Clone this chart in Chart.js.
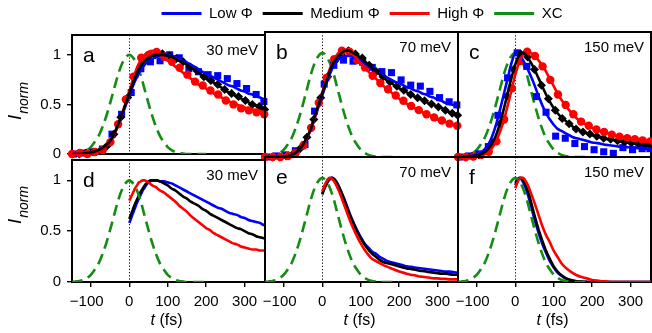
<!DOCTYPE html>
<html><head><meta charset="utf-8">
<script src="https://cdn.jsdelivr.net/npm/chart.js@4.4.1/dist/chart.umd.min.js"></script>
<style>
html,body{margin:0;padding:0;background:#fff;}
#wrap{position:relative;width:652px;height:333px;overflow:hidden;background:#fff;}
#wrap canvas{position:absolute;}
</style></head><body><div id="wrap"></div>
<script>
// ---------- tick labels / categories ----------
const xTickValues = [-100, 0, 100, 200, 300];
const xTickLabels = ['\u2212100', '0', '100', '200', '300'];
const yTickValues = [0, 0.5, 1];
const yTickLabels = ['0', '0.5', '1'];
const panelLetters = ['a', 'b', 'c', 'd', 'e', 'f'];
const energyLabels = ['30 meV', '70 meV', '150 meV'];
const seriesNames = ['Low \u03A6', 'Medium \u03A6', 'High \u03A6', 'XC'];

// ---------- time axes (fs) ----------
const tFit = [-150,-140,-130,-120,-110,-100,-90,-80,-70,-60,-50,-40,-30,-20,-10,0,10,20,30,40,50,60,70,80,90,100,110,120,130,140,150,160,170,180,190,200,210,220,230,240,250,260,270,280,290,300,310,320,330,340,350,360];
const tB = [0,5,10,15,20,25,30,35,40,45,50,60,70,80,90,100,110,120,130,140,150,160,170,180,190,200,210,220,230,240,250,260,270,280,290,300,310,320,330,340,350,360];
const tXC = [-150,-140,-130,-120,-110,-100,-90,-80,-70,-60,-50,-40,-30,-20,-10,0,10,20,30,40,50,60,70,80,90,100,110,120,130,140,150,160,170,180,190,200];
const tSq = [-145,-120,-95,-70,-45,-20,5,30,55,80,105,130,155,180,205,230,255,280,305,330,350];
const tDia = [-148,-130,-112,-94,-76,-58,-40,-22,-4,14,32,50,68,86,104,122,140,158,176,194,212,230,248,266,284,302,320,338,352];
const tCir = [-149,-129,-109,-89,-69,-49,-29,-9,11,31,51,71,91,111,131,151,171,191,211,231,251,271,291,311,331,351];

// ---------- cross-correlation ----------
const xcVals = [0,0.005,0.01,0.02,0.04,0.07,0.12,0.18,0.27,0.38,0.51,0.65,0.79,0.9,0.97,1.0,0.97,0.9,0.79,0.65,0.51,0.38,0.27,0.18,0.12,0.07,0.04,0.02,0.01,0.005,0,0,0,0,0,0];

// ---------- panel a (30 meV, measured) ----------
const aBlueFit = [0,0,0,0,0.005,0.01,0.02,0.035,0.055,0.085,0.125,0.19,0.28,0.38,0.48,0.59,0.69,0.78,0.85,0.9,0.94,0.96,0.98,0.99,1.0,1.0,0.99,0.98,0.96,0.94,0.92,0.9,0.88,0.85,0.83,0.81,0.79,0.77,0.75,0.73,0.71,0.69,0.68,0.66,0.64,0.63,0.61,0.6,0.58,0.57,0.55,0.54];
const aBlackFit = [0,0,0,0.005,0.01,0.015,0.025,0.04,0.06,0.09,0.13,0.2,0.29,0.39,0.5,0.61,0.72,0.82,0.89,0.94,0.97,0.99,1.0,1.0,1.0,0.99,0.98,0.96,0.94,0.92,0.9,0.87,0.85,0.82,0.79,0.76,0.74,0.72,0.69,0.67,0.64,0.62,0.6,0.58,0.56,0.54,0.52,0.5,0.49,0.47,0.46,0.44];
const aRedFit = [0,0,0,0,0.005,0.01,0.02,0.03,0.05,0.08,0.12,0.19,0.28,0.39,0.51,0.63,0.76,0.87,0.95,1.0,1.03,1.04,1.03,1.0,0.97,0.94,0.91,0.88,0.85,0.82,0.79,0.76,0.73,0.7,0.68,0.66,0.63,0.61,0.59,0.57,0.55,0.53,0.51,0.5,0.48,0.47,0.46,0.45,0.44,0.43,0.42,0.41];
const aBlueSq = [0,0.01,0.02,0.05,0.2,0.4,0.62,0.86,0.93,0.94,1.0,0.97,0.86,0.83,0.8,0.79,0.76,0.71,0.66,0.6,0.53];
const aBlackDia = [0,0,0.01,0.02,0.03,0.08,0.2,0.37,0.57,0.78,0.9,0.96,1.0,1.01,0.99,0.96,0.93,0.88,0.84,0.78,0.74,0.7,0.65,0.61,0.58,0.54,0.5,0.48,0.45];
const aRedCir = [0,0.01,0,0.02,0.04,0.12,0.3,0.55,0.78,0.97,1.0,1.03,0.98,0.93,0.87,0.8,0.73,0.69,0.64,0.6,0.54,0.5,0.46,0.44,0.42,0.4];

// ---------- panel b (70 meV, measured) ----------
const bBlueFit = [0,0,0,0,0,0.005,0.01,0.02,0.04,0.07,0.11,0.18,0.26,0.37,0.48,0.59,0.7,0.8,0.88,0.93,0.96,0.97,0.97,0.96,0.94,0.92,0.9,0.87,0.84,0.82,0.8,0.78,0.76,0.74,0.72,0.71,0.69,0.67,0.66,0.64,0.63,0.61,0.6,0.58,0.57,0.55,0.54,0.52,0.51,0.5,0.48,0.47];
const bBlackFit = [0,0,0,0,0,0.005,0.01,0.02,0.04,0.07,0.12,0.19,0.27,0.39,0.5,0.61,0.72,0.83,0.91,0.96,1.0,1.02,1.02,1.0,0.98,0.95,0.92,0.89,0.85,0.82,0.79,0.76,0.73,0.71,0.68,0.66,0.64,0.62,0.6,0.58,0.56,0.55,0.53,0.51,0.5,0.48,0.47,0.45,0.43,0.42,0.4,0.39];
const bRedFit = [0,0,0,0,0,0.005,0.01,0.02,0.04,0.07,0.11,0.18,0.27,0.38,0.5,0.62,0.74,0.85,0.93,0.99,1.02,1.03,1.01,0.98,0.94,0.9,0.86,0.82,0.78,0.75,0.71,0.68,0.65,0.62,0.59,0.56,0.54,0.51,0.49,0.47,0.45,0.43,0.41,0.4,0.38,0.36,0.35,0.34,0.32,0.31,0.3,0.29];
const bBlueSq = [0,0.01,0.02,0.06,0.12,0.44,0.7,0.88,0.93,0.92,0.91,0.86,0.82,0.81,0.74,0.69,0.68,0.63,0.57,0.53,0.5];
const bBlackDia = [0,0,0,0.01,0.03,0.08,0.19,0.36,0.57,0.77,0.92,0.99,1.02,0.99,0.95,0.88,0.82,0.77,0.72,0.68,0.64,0.6,0.57,0.54,0.51,0.48,0.45,0.42,0.4];
const bRedCir = [0,0,0,0.01,0.04,0.11,0.28,0.52,0.76,0.94,1.02,1.01,0.93,0.86,0.78,0.71,0.65,0.59,0.54,0.49,0.45,0.41,0.38,0.35,0.32,0.3];

// ---------- panel c (150 meV, measured) ----------
const cBlueFit = [0,0,0.005,0.01,0.015,0.025,0.04,0.07,0.12,0.2,0.31,0.45,0.6,0.75,0.9,0.99,0.98,0.93,0.86,0.78,0.69,0.59,0.5,0.42,0.36,0.31,0.27,0.25,0.23,0.21,0.19,0.18,0.17,0.16,0.15,0.14,0.135,0.13,0.12,0.115,0.11,0.105,0.1,0.1,0.095,0.09,0.09,0.085,0.085,0.08,0.08,0.08];
const cBlackFit = [0,0,0,0.005,0.01,0.015,0.025,0.045,0.08,0.13,0.21,0.32,0.46,0.61,0.76,0.89,0.98,1.0,0.97,0.91,0.84,0.76,0.68,0.6,0.53,0.47,0.42,0.38,0.35,0.32,0.29,0.27,0.25,0.24,0.22,0.21,0.2,0.19,0.18,0.17,0.165,0.16,0.15,0.145,0.14,0.135,0.13,0.125,0.12,0.12,0.115,0.11];
const cRedFit = [0,0,0,0,0.005,0.01,0.015,0.03,0.05,0.09,0.15,0.24,0.35,0.49,0.64,0.79,0.91,0.98,1.01,1.0,0.97,0.93,0.88,0.82,0.75,0.68,0.61,0.55,0.5,0.45,0.41,0.37,0.34,0.32,0.3,0.28,0.265,0.25,0.24,0.23,0.215,0.205,0.195,0.19,0.18,0.175,0.17,0.165,0.16,0.155,0.15,0.145];
const cBlueSq = [0,0.01,0.03,0.1,0.4,0.76,1.0,0.87,0.58,0.43,0.2,0.18,0.13,0.1,0.07,0.05,0.035,0.09,0.07,0.08,0.08];
const cBlackDia = [0,0,0.01,0.02,0.06,0.14,0.32,0.58,0.84,0.99,0.96,0.84,0.69,0.56,0.45,0.37,0.32,0.27,0.24,0.22,0.2,0.18,0.17,0.155,0.145,0.135,0.125,0.12,0.115];
const cRedCir = [0,0,0.005,0.02,0.05,0.15,0.36,0.66,0.92,1.01,0.97,0.87,0.74,0.6,0.5,0.41,0.34,0.3,0.265,0.24,0.215,0.195,0.18,0.17,0.16,0.15];

// ---------- panels d, e, f (simulated) ----------
const dBlue = [0.58,0.63,0.68,0.73,0.78,0.82,0.86,0.9,0.93,0.96,0.98,1.0,1.0,0.99,0.99,0.98,0.97,0.95,0.93,0.91,0.89,0.87,0.85,0.83,0.81,0.79,0.77,0.75,0.73,0.72,0.7,0.68,0.67,0.66,0.64,0.63,0.61,0.6,0.59,0.58,0.56,0.55];
const dBlack = [0.62,0.67,0.72,0.77,0.81,0.85,0.89,0.92,0.95,0.97,0.99,1.0,1.0,0.99,0.97,0.95,0.92,0.9,0.87,0.84,0.82,0.79,0.77,0.75,0.72,0.7,0.67,0.65,0.63,0.61,0.59,0.57,0.55,0.53,0.52,0.5,0.48,0.47,0.45,0.44,0.43,0.42];
const dRed = [0.8,0.84,0.88,0.92,0.95,0.98,0.99,1.0,1.0,0.99,0.98,0.95,0.93,0.9,0.88,0.85,0.82,0.79,0.75,0.72,0.69,0.65,0.62,0.59,0.56,0.53,0.51,0.48,0.46,0.44,0.42,0.4,0.38,0.37,0.35,0.34,0.33,0.32,0.32,0.31,0.31,0.3];
const eBlue = [0.85,0.9,0.94,0.97,0.99,1.0,0.99,0.97,0.94,0.9,0.86,0.77,0.67,0.58,0.5,0.43,0.37,0.33,0.29,0.27,0.24,0.22,0.2,0.19,0.18,0.17,0.16,0.15,0.145,0.14,0.135,0.13,0.125,0.12,0.115,0.11,0.105,0.1,0.1,0.095,0.09,0.09];
const eBlack = [0.84,0.89,0.93,0.97,0.99,1.0,0.99,0.97,0.94,0.9,0.86,0.76,0.66,0.57,0.49,0.42,0.36,0.31,0.27,0.24,0.21,0.19,0.18,0.17,0.16,0.15,0.14,0.13,0.125,0.12,0.11,0.105,0.1,0.095,0.09,0.085,0.08,0.08,0.075,0.07,0.07,0.065];
const eRed = [0.87,0.92,0.96,0.99,1.0,0.99,0.97,0.94,0.9,0.86,0.81,0.71,0.61,0.52,0.44,0.37,0.31,0.26,0.22,0.2,0.18,0.16,0.145,0.13,0.115,0.1,0.09,0.08,0.07,0.065,0.055,0.05,0.045,0.04,0.035,0.035,0.03,0.03,0.025,0.025,0.025,0.02];
const fBlue = [0.95,0.98,1.0,0.99,0.96,0.92,0.87,0.81,0.74,0.67,0.6,0.48,0.37,0.28,0.2,0.14,0.09,0.06,0.035,0.02,0.012,0.007,0.004,0.002,0,0,0,0,0,0,0,0,0,0,0,0,0,0,0,0,0,0];
const fBlack = [0.93,0.97,0.995,1.0,0.98,0.95,0.9,0.85,0.78,0.71,0.64,0.51,0.4,0.3,0.22,0.15,0.1,0.065,0.04,0.025,0.015,0.008,0.004,0.002,0,0,0,0,0,0,0,0,0,0,0,0,0,0,0,0,0,0];
const fRed = [0.9,0.95,0.99,1.0,1.0,0.98,0.95,0.91,0.86,0.81,0.76,0.65,0.54,0.45,0.38,0.3,0.24,0.18,0.14,0.11,0.085,0.065,0.05,0.04,0.03,0.02,0.015,0.01,0.007,0.005,0,0,0,0,0,0,0,0,0,0,0,0];

// ---------- styling ----------
const FONT = '"Liberation Sans", Arial, Helvetica, sans-serif';
const C_BLUE = '#0000ff', C_BLACK = '#000000', C_RED = '#ff0000', C_GREEN = '#138c13';
const XC_DASH = [11, 6];
const PW = 193, PH = 125, PX0 = 72, PY0 = 32;
const X_MIN = -149, X_MAX = 353;

Chart.defaults.font.family = FONT;
Chart.defaults.color = '#000';

const xy = (xs, ys) => xs.map((x, i) => ({x: x, y: ys[i]}));

const panels = [
  {col:0,row:0, fits:[aBlueFit,aBlackFit,aRedFit], pts:[aBlueSq,aBlackDia,aRedCir]},
  {col:1,row:0, fits:[bBlueFit,bBlackFit,bRedFit], pts:[bBlueSq,bBlackDia,bRedCir]},
  {col:2,row:0, fits:[cBlueFit,cBlackFit,cRedFit], pts:[cBlueSq,cBlackDia,cRedCir]},
  {col:0,row:1, fits:[dBlue,dBlack,dRed]},
  {col:1,row:1, fits:[eBlue,eBlack,eRed]},
  {col:2,row:1, fits:[fBlue,fBlack,fRed]}
];

const wrap = document.getElementById('wrap');
function addCanvas(left, top, w, h) {
  const c = document.createElement('canvas');
  c.width = w; c.height = h;
  c.style.left = left + 'px'; c.style.top = top + 'px';
  c.style.width = w + 'px'; c.style.height = h + 'px';
  wrap.appendChild(c);
  return c;
}

function lineDs(data, color, extra) {
  return Object.assign({data: data, borderColor: color, backgroundColor: color, borderWidth: 2.6,
    pointRadius: 0, fill: false, tension: 0.4, cubicInterpolationMode: 'monotone'}, extra || {});
}
function markDs(data, color, style, r) {
  return {data: data, showLine: false, pointStyle: style, pointRadius: r, pointHoverRadius: r,
    pointBackgroundColor: color, pointBorderColor: color, pointBorderWidth: 0,
    borderColor: color, backgroundColor: color, clip: false};
}

function drawMixed(ctx, parts, cx, y) {
  let total = 0;
  parts.forEach(p => { ctx.font = p.font; total += ctx.measureText(p.t).width + (p.gap || 0); });
  let x = cx - total / 2;
  parts.forEach(p => { ctx.font = p.font; ctx.fillText(p.t, x, y + (p.dy || 0)); x += ctx.measureText(p.t).width + (p.gap || 0); });
}

panels.forEach((p, idx) => {
  const L = PX0 + p.col * PW, T = PY0 + p.row * PH;
  const lm = p.col === 0 ? 72 : 12, rm = 12, tm = 12, bm = p.row === 1 ? 51 : 12;
  const cv = addCanvas(L - lm, T - tm, PW + lm + rm, PH + tm + bm);

  const ds = [];
  const xcDs = lineDs(xy(tXC, xcVals), C_GREEN, {borderDash: XC_DASH, borderWidth: 2.6});
  if (p.row === 0) {
    ds.push(xcDs);
    ds.push(markDs(xy(tSq, p.pts[0]), C_BLUE, 'rect', 5));
    ds.push(markDs(xy(tDia, p.pts[1]), C_BLACK, 'rectRot', 4.5));
    ds.push(markDs(xy(tCir, p.pts[2]), C_RED, 'circle', 4.2));
    ds.push(lineDs(xy(tFit, p.fits[0]), C_BLUE));
    ds.push(lineDs(xy(tFit, p.fits[2]), C_RED));
    ds.push(lineDs(xy(tFit, p.fits[1]), C_BLACK));
  } else {
    ds.push(lineDs(xy(tB, p.fits[0]), C_BLUE));
    ds.push(lineDs(xy(tB, p.fits[1]), C_BLACK));
    ds.push(lineDs(xy(tB, p.fits[2]), C_RED));
    ds.push(xcDs);
  }
  ds.forEach((d, i) => { d.order = ds.length - i; });

  const deco = {
    id: 'deco' + idx,
    beforeDatasetsDraw(chart) {
      const ctx = chart.ctx, a = chart.chartArea;
      const x0 = Math.round(chart.scales.x.getPixelForValue(0)) + 0.5;
      ctx.save();
      ctx.strokeStyle = '#000';
      ctx.lineWidth = 1;
      ctx.setLineDash([1.2, 2]);
      ctx.beginPath(); ctx.moveTo(x0, a.top); ctx.lineTo(x0, a.bottom); ctx.stroke();
      ctx.setLineDash([]);
      ctx.lineWidth = 2;
      ctx.strokeRect(a.left, a.top, a.right - a.left, a.bottom - a.top);
      ctx.restore();
    },
    afterDraw(chart) {
      const ctx = chart.ctx, a = chart.chartArea;
      ctx.save();
      ctx.fillStyle = '#000';
      ctx.textBaseline = 'alphabetic';
      ctx.textAlign = 'left';
      ctx.font = '21px ' + FONT;
      ctx.fillText(panelLetters[idx], a.left + 11, a.top + 27);
      ctx.textAlign = 'right';
      ctx.font = '15px ' + FONT;
      ctx.fillText(energyLabels[p.col], a.right - 7, a.top + 20);
      ctx.textAlign = 'left';
      if (p.row === 1) {
        drawMixed(ctx, [{t: 't', font: 'italic 16px ' + FONT}, {t: ' (fs)', font: '16px ' + FONT}],
          (a.left + a.right) / 2 - 2, a.bottom + 43);
      }
      if (p.col === 0) {
        const cy = p.row === 0 ? a.top + 66 : a.top + 45;
        ctx.translate(21, cy);
        ctx.rotate(-Math.PI / 2);
        drawMixed(ctx, [{t: 'I', font: 'italic 19px ' + FONT, gap: 1}, {t: 'norm', font: 'italic 14px ' + FONT, dy: 7}], 0, 0);
      }
      ctx.restore();
    }
  };

  new Chart(cv, {
    type: 'line',
    data: {datasets: ds},
    options: {
      responsive: false, animation: false, devicePixelRatio: 1, events: [],
      layout: {padding: {left: p.col === 0 ? 0 : lm, right: rm, top: tm, bottom: p.row === 1 ? 0 : bm}},
      plugins: {legend: {display: false}, tooltip: {enabled: false}},
      scales: {
        x: {
          type: 'linear', min: X_MIN, max: X_MAX, display: p.row === 1,
          afterBuildTicks: s => { s.ticks = xTickValues.map(v => ({value: v})); },
          afterFit: s => { s.height = p.row === 1 ? 51 : 0; },
          grid: {drawOnChartArea: false, drawTicks: true, tickLength: 5, color: '#000', lineWidth: 1.4},
          border: {display: false},
          ticks: {padding: 6, font: {size: 15, family: FONT}, color: '#000', maxRotation: 0, autoSkip: false,
            callback: v => { const s = xTickLabels[xTickValues.indexOf(v)]; return v < 0 ? s + '\u2007' : s; }}
        },
        y: {
          type: 'linear', min: 0, max: 1.2, display: p.col === 0,
          afterBuildTicks: s => { s.ticks = yTickValues.map(v => ({value: v})); },
          afterFit: s => { s.width = p.col === 0 ? 72 : 0; },
          grid: {drawOnChartArea: false, drawTicks: true, tickLength: 5, color: '#000', lineWidth: 1.4},
          border: {display: false},
          ticks: {padding: 6, font: {size: 15, family: FONT}, color: '#000', autoSkip: false,
            callback: v => yTickLabels[yTickValues.indexOf(v)]}
        }
      }
    },
    plugins: [deco]
  });
});

// ---------- legend ----------
const lg = addCanvas(72, -4, 580, 110);
new Chart(lg, {
  type: 'line',
  data: {datasets: [
    {label: seriesNames[0], data: [], borderColor: C_BLUE, backgroundColor: C_BLUE, borderWidth: 3},
    {label: seriesNames[1], data: [], borderColor: C_BLACK, backgroundColor: C_BLACK, borderWidth: 3},
    {label: seriesNames[2], data: [], borderColor: C_RED, backgroundColor: C_RED, borderWidth: 3},
    {label: seriesNames[3], data: [], borderColor: C_GREEN, backgroundColor: C_GREEN, borderWidth: 3, borderDash: [13, 8]}
  ]},
  options: {
    responsive: false, animation: false, devicePixelRatio: 1, events: [],
    layout: {padding: 0},
    scales: {x: {display: false}, y: {display: false}},
    plugins: {
      tooltip: {enabled: false},
      legend: {display: true, position: 'top',
        labels: {usePointStyle: true, pointStyle: 'line', pointStyleWidth: 40, boxHeight: 15,
          padding: 10, color: '#000', font: {size: 15, family: FONT}}}
    }
  }
});
</script></body></html>
